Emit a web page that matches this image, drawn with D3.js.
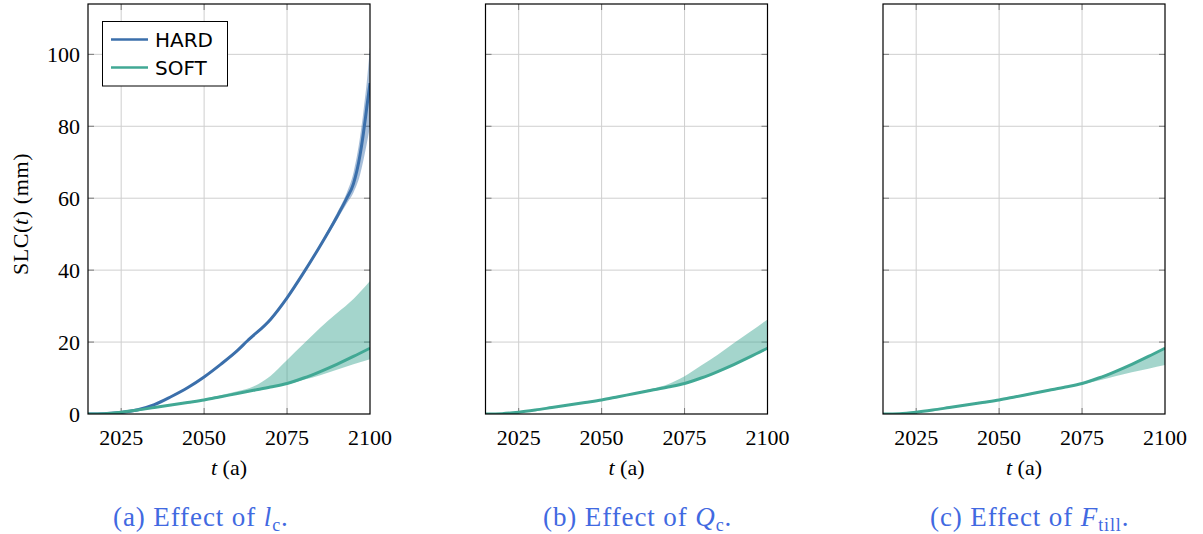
<!DOCTYPE html>
<html>
<head>
<meta charset="utf-8">
<script src="https://cdn.jsdelivr.net/npm/d3@7"></script>
<style>
  body { margin: 0; background: #fff; }
  svg { display: block; }
</style>
</head>
<body>
<div id="chart"></div>
<script>
// values (SLC in mm)
const hardYears = [2015, 2020, 2025, 2030, 2035, 2040, 2045, 2050, 2055, 2060, 2063, 2070, 2075, 2080, 2085, 2090, 2093, 2095, 2097, 2098, 2099, 2100];
const hardMed = [0, 0.1, 0.4, 1.2, 2.6, 4.8, 7.3, 10.3, 13.8, 17.6, 20.3, 26.3, 32.3, 39.3, 46.8, 54.8, 60, 64, 72, 78, 85, 92];
const hardLo = [0, 0.05, 0.3, 1.0, 2.4, 4.6, 7.1, 10.1, 13.6, 17.4, 20.1, 26.1, 32.1, 39.0, 46.4, 53.9, 58.5, 61.5, 66.5, 70.5, 75, 80];
const hardHi = [0, 0.15, 0.5, 1.4, 2.8, 5.0, 7.5, 10.5, 14.0, 17.8, 20.5, 26.5, 32.5, 39.6, 47.3, 55.8, 61.5, 67, 77, 84, 92, 102];

const softYears = [2015, 2020, 2025, 2030, 2035, 2040, 2045, 2050, 2055, 2060, 2065, 2070, 2075, 2080, 2085, 2090, 2095, 2100];
const softMed = [0, 0.1, 0.5, 1.1, 1.8, 2.5, 3.2, 3.9, 4.8, 5.7, 6.6, 7.5, 8.5, 10, 11.8, 13.8, 16, 18.3];
const softHiA = [0, 0.1, 0.5, 1.1, 1.8, 2.5, 3.3, 4.2, 5.2, 6.3, 7.7, 10.6, 15, 19.5, 24, 28, 32, 37];
const softLoA = [0, 0.1, 0.5, 1.1, 1.8, 2.5, 3.2, 3.9, 4.7, 5.5, 6.4, 7.3, 8.2, 9.5, 10.8, 12.3, 13.8, 15.2];
const softHiB = [0, 0.1, 0.5, 1.1, 1.8, 2.5, 3.2, 4.0, 4.9, 5.9, 7.0, 8.3, 10.5, 13.5, 16.5, 19.8, 23, 26.3];
const softLoB = [0, 0.1, 0.45, 1.0, 1.7, 2.35, 3.0, 3.7, 4.6, 5.5, 6.4, 7.3, 8.3, 9.8, 11.6, 13.6, 15.8, 18.0];
const softHiC = [0, 0.15, 0.6, 1.2, 1.95, 2.7, 3.4, 4.1, 5.0, 5.9, 6.8, 7.7, 8.7, 10.2, 12.0, 14.0, 16.2, 18.5];
const softLoC = [0, 0.1, 0.5, 1.1, 1.8, 2.5, 3.2, 3.9, 4.7, 5.6, 6.5, 7.3, 8.2, 9.3, 10.5, 11.6, 12.6, 13.6];

const xTicks = [2025, 2050, 2075, 2100];
const yTicks = [0, 20, 40, 60, 80, 100];
const legendLabels = ['HARD', 'SOFT'];

const hardColor = '#3b6fab';
const softColor = '#41a894';

const panels = [
  { left: 88, caption: ['(a) Effect of ', 'l', 'c', '.'], capX: 113, soft: [softLoA, softHiA], hard: true },
  { left: 485.5, caption: ['(b) Effect of ', 'Q', 'c', '.'], capX: 543, soft: [softLoB, softHiB], hard: false },
  { left: 883, caption: ['(c) Effect of ', 'F', 'till', '.'], capX: 930, soft: [softLoC, softHiC], hard: false }
];

const W = 1203, H = 534;
const plotTop = 4, plotBottom = 414, pw = 282;
const serif = '"Liberation Serif", "Times New Roman", serif';

const svg = d3.select('#chart').append('svg')
  .attr('width', W)
  .attr('height', H);

const y = d3.scaleLinear().domain([0, 114]).range([plotBottom, plotTop]);

function toPts(xs, ys) {
  return xs.map((t, i) => ({ t: t, v: ys[i] }));
}
function toBand(xs, lo, hi) {
  return xs.map((t, i) => ({ t: t, lo: lo[i], hi: hi[i] }));
}

panels.forEach((p, pi) => {
  const x = d3.scaleLinear().domain([2015, 2100]).range([p.left, p.left + pw]);
  const g = svg.append('g');

  // grid
  g.selectAll('.gx').data(xTicks.slice(0, 3)).enter().append('line')
    .attr('x1', d => x(d)).attr('x2', d => x(d))
    .attr('y1', plotTop).attr('y2', plotBottom)
    .attr('stroke', '#cfcfcf').attr('stroke-width', 1);
  g.selectAll('.gy').data(yTicks.slice(1)).enter().append('line')
    .attr('x1', p.left).attr('x2', p.left + pw)
    .attr('y1', d => y(d)).attr('y2', d => y(d))
    .attr('stroke', '#cfcfcf').attr('stroke-width', 1);

  // inner ticks on all sides
  const tl = 6;
  xTicks.slice(0, 3).forEach(d => {
    g.append('line').attr('x1', x(d)).attr('x2', x(d)).attr('y1', plotBottom).attr('y2', plotBottom - tl)
      .attr('stroke', '#7a7a7a').attr('stroke-width', 1);
    g.append('line').attr('x1', x(d)).attr('x2', x(d)).attr('y1', plotTop).attr('y2', plotTop + tl)
      .attr('stroke', '#7a7a7a').attr('stroke-width', 1);
  });
  yTicks.slice(1).forEach(d => {
    g.append('line').attr('x1', p.left).attr('x2', p.left + tl).attr('y1', y(d)).attr('y2', y(d))
      .attr('stroke', '#7a7a7a').attr('stroke-width', 1);
    g.append('line').attr('x1', p.left + pw).attr('x2', p.left + pw - tl).attr('y1', y(d)).attr('y2', y(d))
      .attr('stroke', '#7a7a7a').attr('stroke-width', 1);
  });

  const clipId = 'clip' + pi;
  svg.append('clipPath').attr('id', clipId).append('rect')
    .attr('x', p.left).attr('y', plotTop).attr('width', pw).attr('height', plotBottom - plotTop);
  const plot = g.append('g').attr('clip-path', 'url(#' + clipId + ')');

  const area = d3.area().curve(d3.curveMonotoneX)
    .x(d => x(d.t)).y0(d => y(d.lo)).y1(d => y(d.hi));
  const line = d3.line().curve(d3.curveMonotoneX)
    .x(d => x(d.t)).y(d => y(d.v));

  plot.append('path').datum(toBand(softYears, p.soft[0], p.soft[1]))
    .attr('d', area).attr('fill', softColor).attr('fill-opacity', 0.48);
  if (p.hard) {
    plot.append('path').datum(toBand(hardYears, hardLo, hardHi))
      .attr('d', area).attr('fill', hardColor).attr('fill-opacity', 0.45);
    plot.append('path').datum(toPts(hardYears, hardMed))
      .attr('d', line).attr('fill', 'none').attr('stroke', hardColor).attr('stroke-width', 3);
  }
  plot.append('path').datum(toPts(softYears, softMed))
    .attr('d', line).attr('fill', 'none').attr('stroke', softColor).attr('stroke-width', 3);

  // frame
  g.append('rect').attr('x', p.left).attr('y', plotTop).attr('width', pw).attr('height', plotBottom - plotTop)
    .attr('fill', 'none').attr('stroke', '#000').attr('stroke-width', 1.2);

  // x tick labels
  g.selectAll('.xl').data(xTicks).enter().append('text')
    .attr('x', d => x(d)).attr('y', 445)
    .attr('text-anchor', 'middle')
    .attr('font-family', serif).attr('font-size', 22)
    .text(d => d);

  // x axis label
  const xl = g.append('text').attr('x', p.left + pw / 2).attr('y', 475)
    .attr('text-anchor', 'middle').attr('font-family', serif).attr('font-size', 22);
  xl.append('tspan').attr('font-style', 'italic').text('t');
  xl.append('tspan').text(' (a)');

  // caption
  const cap = g.append('text').attr('x', p.capX).attr('y', 526)
    .attr('font-family', serif).attr('font-size', 27).attr('letter-spacing', 0.9)
    .attr('fill', '#4169e1');
  cap.append('tspan').text(p.caption[0]);
  cap.append('tspan').attr('font-style', 'italic').text(p.caption[1]);
  cap.append('tspan').attr('font-size', 18).attr('dy', 5).text(p.caption[2]);
  cap.append('tspan').attr('dy', -5).text(p.caption[3]);

  if (pi === 0) {
    // y tick labels
    g.selectAll('.yl').data(yTicks).enter().append('text')
      .attr('x', 80).attr('y', d => y(d) + 7.5)
      .attr('text-anchor', 'end')
      .attr('font-family', serif).attr('font-size', 22)
      .text(d => d);

    // y axis label
    const yl = g.append('text')
      .attr('transform', 'translate(28,214) rotate(-90)')
      .attr('text-anchor', 'middle').attr('font-family', serif).attr('font-size', 22)
      .attr('letter-spacing', 0.6);
    yl.append('tspan').text('SLC(');
    yl.append('tspan').attr('font-style', 'italic').text('t');
    yl.append('tspan').text(') (mm)');

    // legend
    const lg = g.append('g');
    lg.append('rect').attr('x', 102.5).attr('y', 21.5).attr('width', 125).attr('height', 64.5)
      .attr('fill', '#fff').attr('stroke', '#000').attr('stroke-width', 1);
    [hardColor, softColor].forEach((c, i) => {
      const ly = 39.5 + i * 28;
      lg.append('line').attr('x1', 111).attr('x2', 148).attr('y1', ly).attr('y2', ly)
        .attr('stroke', c).attr('stroke-width', 2.6);
      lg.append('text').attr('x', 155).attr('y', ly + 7.5)
        .attr('font-family', '"DejaVu Sans", sans-serif').attr('font-size', 20)
        .text(legendLabels[i]);
    });
  }
});
</script>
</body>
</html>
